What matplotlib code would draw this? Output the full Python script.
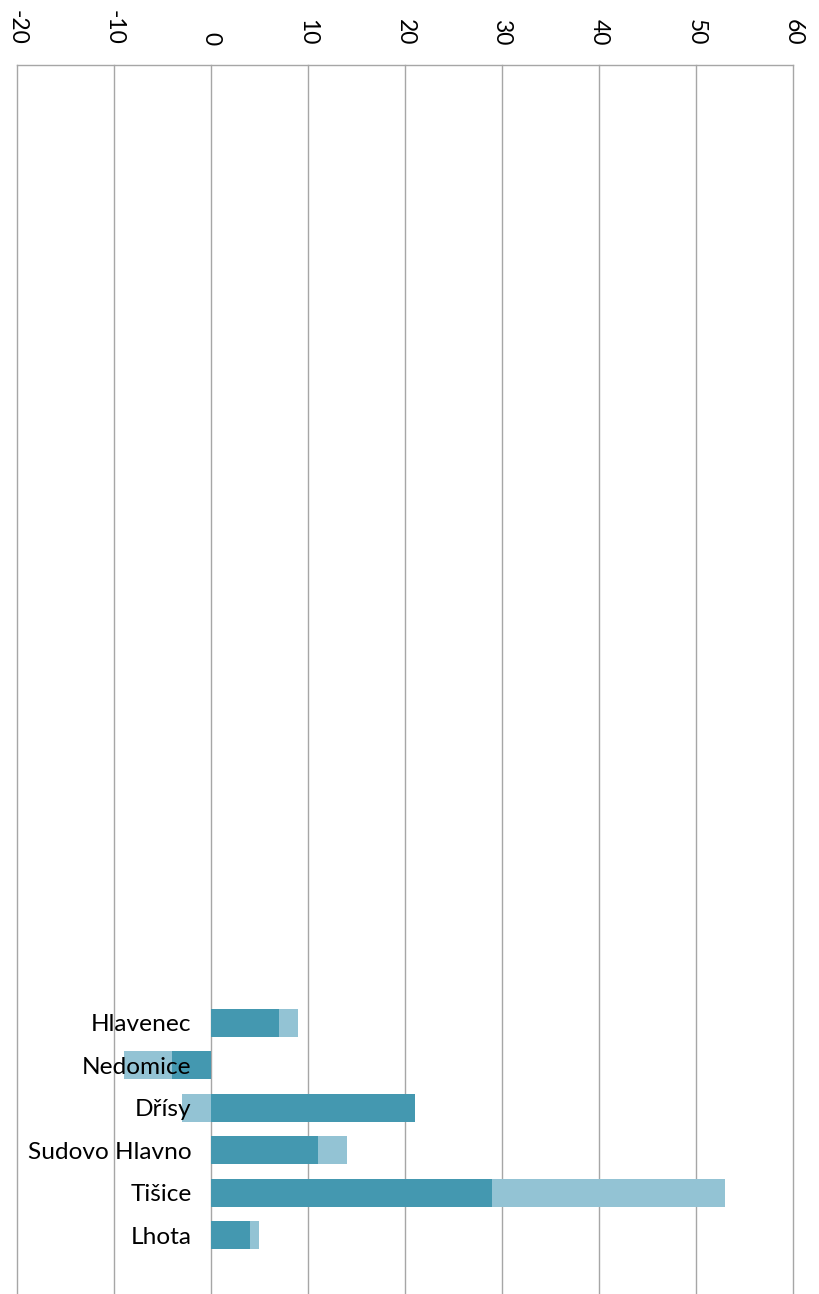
import matplotlib
matplotlib.use("Agg")
import matplotlib.pyplot as plt
import numpy as np

# data
villages = ["Hlavenec", "Nedomice", "Dřísy", "Sudovo Hlavno", "Tišice", "Lhota"]
series_dark = [7, -4, 21, 11, 29, 4]
series_light = [2, -5, -3, 3, 24, 1]
x_ticks = [-20, -10, 0, 10, 20, 30, 40, 50, 60]

DARK = "#4498B0"
LIGHT = "#93C3D4"
GRID = "#A6A6A6"

plt.rcParams["font.family"] = ["Lato", "DejaVu Sans"]

W, H = 820, 1294
fig = plt.figure(figsize=(W / 100, H / 100), dpi=100)
ax = fig.add_axes([17 / W, 0, 776 / W, (H - 64.5) / H])

# category labels sit next to the zero line (set before labels, it resets ticks)
ax.spines["left"].set_position(("data", 0))
ax.spines["left"].set_color("none")
ax.spines["bottom"].set_visible(False)
ax.spines["right"].set_visible(False)
ax.spines["top"].set_color(GRID)
ax.spines["top"].set_linewidth(1)

y = np.arange(len(villages))
dark = np.array(series_dark)
light = np.array(series_light)
# excel-style stacking: positives and negatives pile up separately
light_left = np.where(np.sign(light) == np.sign(dark), dark, 0)

ax.barh(y, dark, height=0.66, color=DARK, zorder=1)
ax.barh(y, light, left=light_left, height=0.66, color=LIGHT, zorder=1)

# gridlines behind bars, labels stay on top
for t in x_ticks:
    ax.axvline(t, color=GRID, lw=1, zorder=0.5, clip_on=False)

ax.set_xlim(x_ticks[0], x_ticks[-1])
ax.set_ylim(6.38, -22.55)

ax.xaxis.tick_top()
ax.set_xticks(x_ticks)
ax.set_xticklabels([str(t) for t in x_ticks], rotation=-90, va="bottom",
                   ha="center", fontsize=16.5)
ax.tick_params(axis="x", length=0, pad=14)

ax.set_yticks(y)
ax.set_yticklabels(villages, fontsize=17.6)
ax.tick_params(axis="y", length=0, pad=14)

fig.savefig("out.png", dpi=100)
